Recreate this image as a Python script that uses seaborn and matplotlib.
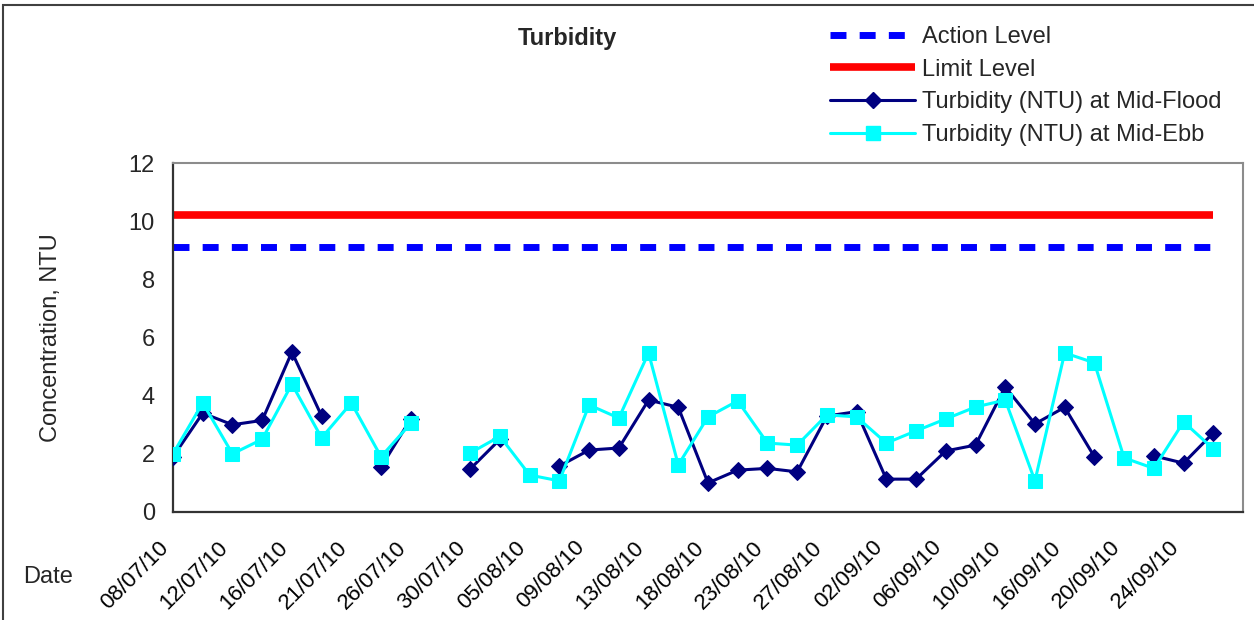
import numpy as np
import pandas as pd
import seaborn as sns
import matplotlib.pyplot as plt
from matplotlib.lines import Line2D
from matplotlib.patches import Rectangle
from matplotlib.transforms import ScaledTranslation

nan = np.nan

# tick labels shown on every second sampling date
tick_dates = ['08/07/10', '12/07/10', '16/07/10', '21/07/10', '26/07/10', '30/07/10',
              '05/08/10', '09/08/10', '13/08/10', '18/08/10', '23/08/10', '27/08/10',
              '02/09/10', '06/09/10', '10/09/10', '16/09/10', '20/09/10', '24/09/10']

mid_flood = [1.9, 3.4, 3.0, 3.15, 5.5, 3.3, nan, 1.55, 3.2, nan, 1.48, 2.5,
             nan, 1.58, 2.13, 2.2, 3.85, 3.6, 1.0, 1.44, 1.5, 1.38, 3.3, 3.45,
             1.13, 1.13, 2.1, 2.3, 4.3, 3.03, 3.6, 1.9, nan, 1.93, 1.68, 2.72]
mid_ebb = [2.0, 3.75, 2.0, 2.5, 4.4, 2.55, 3.75, 1.9, 3.05, nan, 2.03, 2.6,
           1.27, 1.07, 3.68, 3.23, 5.47, 1.62, 3.27, 3.82, 2.37, 2.3, 3.34, 3.27,
           2.37, 2.79, 3.2, 3.61, 3.85, 1.07, 5.47, 5.13, 1.86, 1.5, 3.1, 2.17]

action_level = 9.1
limit_level = 10.2


def to_segments(vals):
    """split series at missing values so the line shows gaps"""
    v = np.array(vals, dtype=float)
    df = pd.DataFrame({'x': np.arange(len(v)), 'y': v, 'seg': np.cumsum(np.isnan(v))})
    return df.dropna()


sns.set_style('white')
plt.rcParams['font.family'] = ['Liberation Sans', 'DejaVu Sans']

fig = plt.figure(figsize=(12.54, 6.2), dpi=100)
ax = fig.add_axes([173 / 1254, 1 - 512 / 620, (1243 - 173) / 1254, (512 - 163) / 620])

n = len(mid_flood)
navy = '#000080'
cyan = '#00FFFF'

ax.hlines(limit_level, 0, n - 1, color='#FF0000', lw=5.5, capstyle='butt', zorder=2)
ax.hlines(action_level, 0, n - 1, color='#0000FF', lw=5, linestyles=[(0, (2.3, 1.9))],
          capstyle='butt', zorder=2)

sns.lineplot(data=to_segments(mid_flood), x='x', y='y', units='seg', estimator=None,
             color=navy, lw=2.2, marker='D', ms=8, mec=navy, mfc=navy,
             legend=False, ax=ax, zorder=3)
sns.lineplot(data=to_segments(mid_ebb), x='x', y='y', units='seg', estimator=None,
             color=cyan, lw=2.2, marker='s', ms=10, mec=cyan, mfc=cyan,
             legend=False, ax=ax, zorder=4)

ax.set_xlim(0, n)
ax.set_ylim(0, 12)
ax.set_yticks(range(0, 13, 2))
ax.set_xticks(range(0, n + 1))
labels = [''] * (n + 1)
for i, d in enumerate(tick_dates):
    labels[2 * i] = d
ax.set_xticklabels(labels, rotation=45, ha='right', fontsize=16)
for lbl in ax.get_xticklabels():
    lbl.set_transform(lbl.get_transform() + ScaledTranslation(-8 / 72, 0, fig.dpi_scale_trans))
ax.tick_params(axis='x', direction='in', length=5, width=1, pad=18, colors='#222222')
ax.tick_params(axis='y', direction='in', length=5, width=1, pad=13, labelsize=17)
for lbl in ax.get_xticklabels():
    lbl.set_color('black')

# plot area border: gray on top/right, darker axes on left/bottom
for s in ['top', 'right']:
    ax.spines[s].set_color('#8c8c8c')
    ax.spines[s].set_linewidth(1.5)
for s in ['left', 'bottom']:
    ax.spines[s].set_color('#333333')
    ax.spines[s].set_linewidth(1.6)

ax.set_xlabel('')
ax.set_ylabel('Concentration, NTU', fontsize=17)
ax.yaxis.set_label_coords(-0.104, 0.5)

fig.text(567 / 1254, 1 - 38 / 620, 'Turbidity', ha='center', va='center',
         fontsize=17, fontweight='bold')
fig.text(48 / 1254, 1 - 577 / 620, 'Date', ha='center', va='center', fontsize=17)

handles = [
    Line2D([], [], color='#0000FF', lw=5, ls=(0, (2.3, 1.9)), dash_capstyle='butt'),
    Line2D([], [], color='#FF0000', lw=5.5, solid_capstyle='butt'),
    Line2D([], [], color=navy, lw=2.2, marker='D', ms=8),
    Line2D([], [], color=cyan, lw=2.2, marker='s', ms=10),
]
names = ['Action Level', 'Limit Level', 'Turbidity (NTU) at Mid-Flood',
         'Turbidity (NTU) at Mid-Ebb']
fig.legend(handles, names, loc='upper left', bbox_to_anchor=(830 / 1254, 1 - 26 / 620),
           frameon=False, fontsize=17, handlelength=3.6, handletextpad=0.3,
           labelspacing=0.45, borderpad=0, borderaxespad=0)

# chart frame, cut by the right and bottom edges of the image
fig.patches.append(Rectangle((3 / 1254, -0.1), 1.2, 1.1 - 5 / 620,
                             transform=fig.transFigure, fill=False,
                             edgecolor='#404040', lw=1.5))

fig.savefig('out.png', dpi=100)
